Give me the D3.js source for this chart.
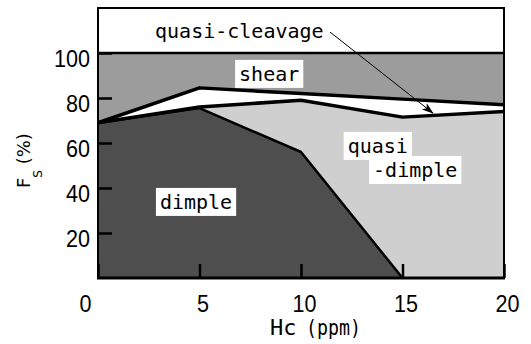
<!DOCTYPE html>
<html>
<head>
<meta charset="utf-8">
<script src="https://cdn.jsdelivr.net/npm/d3@7"></script>
<style>
  html, body { margin: 0; padding: 0; background: #fff; }
  svg { display: block; }
</style>
</head>
<body>
<svg id="chart" width="531" height="344"></svg>
<script>
// ---- data ----
const hc            = [0, 5, 10, 15, 20];          // Hc (ppm)
const shearBottom   = [69, 84.5, 82, 79.5, 77];    // upper boundary of quasi-cleavage
const cleavageBottom= [69, 76, 79, 71.5, 74];      // lower boundary of quasi-cleavage
const dimpleTop     = [69, 75.5, 56, 0, 0];        // upper boundary of dimple
const shearTop      = 100;
const xTicks        = [0, 5, 10, 15, 20];
const yTicks        = [20, 40, 60, 80, 100];
const regionLabels  = ["quasi-cleavage", "shear", "dimple", "quasi", "-dimple"];

// ---- layout ----
const svg = d3.select("#chart");
const x = d3.scaleLinear().domain([0, 20]).range([98, 504]);
const y = d3.scaleLinear().domain([0, 120]).range([278, 8]);

const pts = (arr) => hc.map((h, i) => ({ h, v: arr[i] }));
const monoFont = "'DejaVu Sans Mono', 'Liberation Mono', monospace";
const digitFont = "'Liberation Sans', Arial, sans-serif";

// background of plot (white = top region)
svg.append("rect")
  .attr("x", x(0)).attr("y", y(120))
  .attr("width", x(20) - x(0)).attr("height", y(0) - y(120))
  .attr("fill", "#fff");

// shear region
svg.append("path")
  .datum(pts(shearBottom))
  .attr("fill", "#9c9c9c")
  .attr("d", d3.area().x(d => x(d.h)).y0(d => y(d.v)).y1(() => y(shearTop)));

// quasi-cleavage region (white)
svg.append("path")
  .datum(hc.map((h, i) => ({ h, a: shearBottom[i], b: cleavageBottom[i] })))
  .attr("fill", "#fff")
  .attr("d", d3.area().x(d => x(d.h)).y0(d => y(d.b)).y1(d => y(d.a)));

// quasi-dimple region
svg.append("path")
  .datum(pts(cleavageBottom))
  .attr("fill", "#cfcfcf")
  .attr("d", d3.area().x(d => x(d.h)).y0(() => y(0)).y1(d => y(d.v)));

// dimple region
svg.append("path")
  .datum(pts(dimpleTop))
  .attr("fill", "#4e4e4e")
  .attr("d", d3.area().x(d => x(d.h)).y0(() => y(0)).y1(d => y(d.v)));

// boundary lines
const line = d3.line().x(d => x(d.h)).y(d => y(d.v));
svg.append("path").datum(pts(dimpleTop).filter(d => d.h <= 15))
  .attr("fill", "none").attr("stroke", "#000").attr("stroke-width", 2.5)
  .attr("stroke-linejoin", "round").attr("d", line);
svg.append("path").datum(pts(cleavageBottom))
  .attr("fill", "none").attr("stroke", "#000").attr("stroke-width", 3.5)
  .attr("stroke-linejoin", "round").attr("d", line);
svg.append("path").datum(pts(shearBottom))
  .attr("fill", "none").attr("stroke", "#000").attr("stroke-width", 3.5)
  .attr("stroke-linejoin", "round").attr("d", line);
svg.append("line")
  .attr("x1", x(0)).attr("x2", x(20)).attr("y1", y(shearTop)).attr("y2", y(shearTop))
  .attr("stroke", "#000").attr("stroke-width", 2.5);

// axes
const yAxis = svg.append("g")
  .attr("transform", `translate(${x(0)},0)`)
  .call(d3.axisLeft(y).tickValues(yTicks).tickSize(-14).tickPadding(8));
const xAxis = svg.append("g")
  .attr("transform", `translate(0,${y(0)})`)
  .call(d3.axisBottom(x).tickValues(xTicks).tickSize(-14).tickPadding(17));

[yAxis, xAxis].forEach(g => {
  g.select(".domain").remove();
  g.selectAll(".tick line").attr("stroke", "#000").attr("stroke-width", 2.5);
  g.selectAll(".tick text")
    .attr("fill", "#000")
    .style("font-family", digitFont)
    .style("font-size", "24px")
    .attr("lengthAdjust", "spacingAndGlyphs")
    .attr("textLength", d => String(d).length * 12);
});
yAxis.selectAll(".tick text").attr("dy", "0.57em");
xAxis.selectAll(".tick text").attr("dx", d => d === 0 ? -13 : 3);

// frame
svg.append("rect")
  .attr("x", x(0)).attr("y", y(120))
  .attr("width", x(20) - x(0)).attr("height", y(0) - y(120))
  .attr("fill", "none").attr("stroke", "#000").attr("stroke-width", 2);
svg.append("line")
  .attr("x1", x(0) - 1).attr("x2", x(20) + 1).attr("y1", y(0)).attr("y2", y(0))
  .attr("stroke", "#000").attr("stroke-width", 3);

// arrow
svg.append("defs").append("marker")
  .attr("id", "arrowhead")
  .attr("markerUnits", "userSpaceOnUse")
  .attr("markerWidth", 12).attr("markerHeight", 8)
  .attr("refX", 11).attr("refY", 4)
  .attr("orient", "auto")
  .append("path").attr("d", "M0,0 L12,4 L0,8 L3,4 Z").attr("fill", "#000");
svg.append("line")
  .attr("x1", x(11.43)).attr("y1", y(109.3))
  .attr("x2", x(16.5)).attr("y2", y(73.3))
  .attr("stroke", "#000").attr("stroke-width", 1)
  .attr("marker-end", "url(#arrowhead)");

// region labels with white boxes
function label(text, hx, v, box) {
  const g = svg.append("g");
  const t = g.append("text")
    .attr("x", x(hx)).attr("y", y(v))
    .style("font-family", monoFont).style("font-size", "20px")
    .attr("fill", "#000")
    .text(text);
  if (box) {
    const bb = t.node().getBBox();
    g.insert("rect", "text")
      .attr("x", bb.x - 4).attr("y", bb.y - 2)
      .attr("width", bb.width + 8).attr("height", bb.height + 4)
      .attr("fill", "#fff");
  }
  return g;
}
label(regionLabels[0], 2.81, 106.7, false);
label(regionLabels[1], 6.95, 87.6, true);
label(regionLabels[2], 3.05, 30.7, true);
label(regionLabels[3], 12.3, 55.6, true);
label(regionLabels[4], 13.55, 44.9, true);

// axis titles
const xt = svg.append("text")
  .attr("x", 270).attr("y", 335)
  .style("font-family", monoFont).style("font-size", "22px")
  .attr("fill", "#000");
xt.append("tspan").text("Hc");
xt.append("tspan").attr("x", 306).attr("textLength", 55)
  .attr("lengthAdjust", "spacingAndGlyphs").text("(ppm)");

const yt = svg.append("text")
  .attr("transform", "translate(30,188) rotate(-90)")
  .attr("text-anchor", "start")
  .style("font-family", "'DejaVu Sans', sans-serif").style("font-size", "18px")
  .attr("fill", "#000");
yt.append("tspan").text("F");
yt.append("tspan").attr("dy", 12).style("font-size", "12px").text("S");
yt.append("tspan").attr("dy", -12).text(" (%)");
</script>
</body>
</html>
